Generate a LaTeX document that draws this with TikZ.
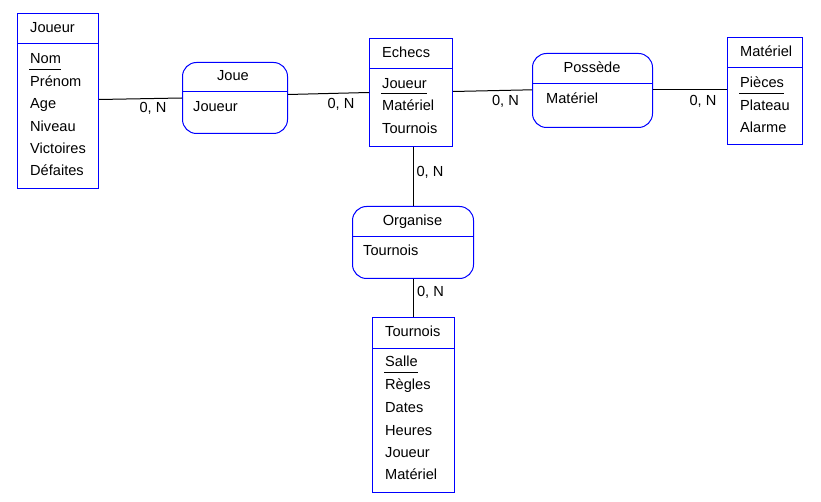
\documentclass[tikz,border=0pt]{standalone}
\usepackage{fontspec}
\setmainfont{Liberation Sans}
\definecolor{erblue}{RGB}{0,0,255}
\begin{document}
\begin{tikzpicture}[x=1pt,y=-1pt,
  ent/.style={draw=erblue, line width=1pt, anchor=north west, inner sep=0pt},
  rel/.style={ent, rounded corners=14pt},
  txt/.style={font=\fontsize{14.6}{17}\selectfont, inner sep=0pt, text height=10.5pt, text depth=0pt},
  attr/.style={txt, anchor=west},
  lbl/.style={txt},
  link/.style={line width=1pt, black},
  div/.style={draw=erblue, line width=1pt},
  ul/.style={line width=1pt, black}]
\useasboundingbox (0,0) rectangle (821,502);
\fill[white] (0,0) rectangle (821,502);

% ---------- Joueur entity
\node[ent, minimum width=81pt, minimum height=175pt] (joueur) at (17,13) {};
\draw[div] (joueur.west |- 0,44) -- (joueur.east |- 0,44);
\node[attr] (joueurT) at (30,27) {Joueur};
\node[attr] (nom) at (30,58) {Nom};
\node[attr] (prenom) at (30,81) {Prénom};
\node[attr] (age) at (30,103) {Age};
\node[attr] (niveau) at (30,126) {Niveau};
\node[attr] (vict) at (30,148) {Victoires};
\node[attr] (defa) at (30,170.5) {Défaites};
\draw[ul] ([xshift=-1pt,yshift=-6pt]nom.south west) -- ([yshift=-6pt]nom.south east);

% ---------- Joue relation
\node[rel, minimum width=105pt, minimum height=71pt] (joue) at (182,62) {};
\draw[div] (joue.west |- 0,92) -- (joue.east |- 0,92);
\node[txt] (joueT) at (233,75) {Joue};
\node[attr] (joueA) at (193,106) {Joueur};

% ---------- Echecs entity
\node[ent, minimum width=83pt, minimum height=108pt] (echecs) at (369,38) {};
\draw[div] (echecs.west |- 0,69) -- (echecs.east |- 0,69);
\node[attr] (echecsT) at (382,52) {Echecs};
\node[attr] (ejoueur) at (382,83) {Joueur};
\node[attr] (emat) at (382,105.5) {Matériel};
\node[attr] (etourn) at (382,128) {Tournois};
\draw[ul] ([xshift=-1pt,yshift=-5pt]ejoueur.south west) -- ([yshift=-5pt]ejoueur.south east);

% ---------- Possède relation
\node[rel, minimum width=120pt, minimum height=74pt] (possede) at (532,53) {};
\draw[div] (possede.west |- 0,84) -- (possede.east |- 0,84);
\node[txt] (possedeT) at (592,67) {Possède};
\node[attr] (possedeA) at (546,98.5) {Matériel};

% ---------- Matériel entity
\node[ent, minimum width=75pt, minimum height=107pt] (materiel) at (727,37) {};
\draw[div] (materiel.west |- 0,68) -- (materiel.east |- 0,68);
\node[attr] (materielT) at (740,51) {Matériel};
\node[attr] (pieces) at (740,82) {Pièces};
\node[attr] (plateau) at (740,105) {Plateau};
\node[attr] (alarme) at (740,127) {Alarme};
\draw[ul] ([xshift=-1pt,yshift=-6pt]pieces.south west) -- ([yshift=-6pt]pieces.south east);

% ---------- Organise relation
\node[rel, minimum width=121pt, minimum height=72pt] (organise) at (352,206) {};
\draw[div] (organise.west |- 0,237) -- (organise.east |- 0,237);
\node[txt] (organiseT) at (412.5,220) {Organise};
\node[attr] (organiseA) at (363,250.5) {Tournois};

% ---------- Tournois entity
\node[ent, minimum width=82pt, minimum height=175pt] (tournois) at (372,317) {};
\draw[div] (tournois.west |- 0,348) -- (tournois.east |- 0,348);
\node[attr] (tournoisT) at (385,331) {Tournois};
\node[attr] (salle) at (385,361.5) {Salle};
\node[attr] (regles) at (385,384.5) {Règles};
\node[attr] (dates) at (385,407.5) {Dates};
\node[attr] (heures) at (385,430) {Heures};
\node[attr] (tjoueur) at (385,452) {Joueur};
\node[attr] (tmat) at (385,474.5) {Matériel};
\draw[ul] ([xshift=-1pt,yshift=-6pt]salle.south west) -- ([yshift=-6pt]salle.south east);

% ---------- connectors
\draw[link] ([yshift=1.5pt]joueur.east) -- (joue.west);
\draw[link] ([yshift=3.5pt]joue.east) -- (echecs.west);
\draw[link] ([yshift=1pt]echecs.east) -- ([yshift=0.7pt]possede.west);
\draw[link] ([yshift=0.7pt]possede.east) -- ([yshift=0.7pt]possede.east -| materiel.west);
\draw[link] (organise.north |- echecs.south) -- (organise.north);
\draw[link] (organise.south) -- (organise.south |- tournois.north);

% ---------- cardinality labels
\node[lbl] (c1) at (153,107.5) {0, N};
\node[lbl] (c2) at (341,103) {0, N};
\node[lbl] (c3) at (505.5,100.5) {0, N};
\node[lbl] (c4) at (703,100.5) {0, N};
\node[lbl] (c5) at (430,171) {0, N};
\node[lbl] (c6) at (430.5,291.5) {0, N};
\end{tikzpicture}
\end{document}
